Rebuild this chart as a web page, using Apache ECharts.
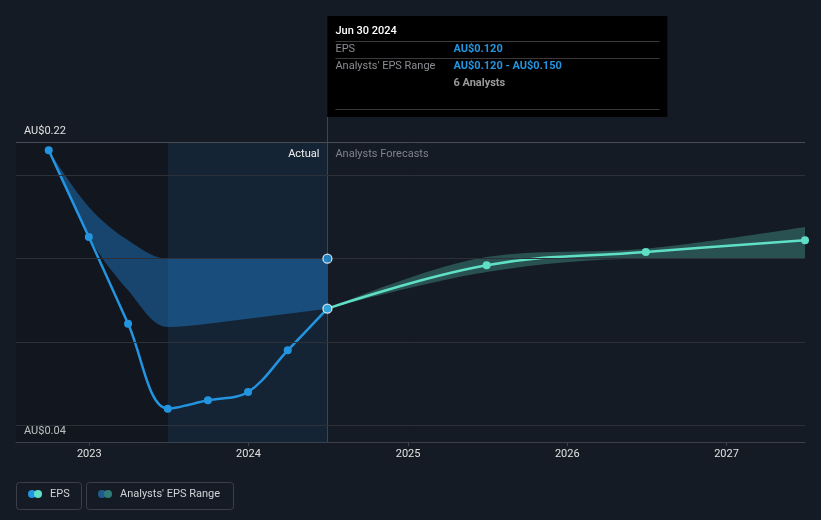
<!DOCTYPE html>
<html><head><meta charset="utf-8">
<script src="https://cdn.jsdelivr.net/npm/echarts@6/dist/echarts.min.js"></script>
<style>html,body{margin:0;padding:0;background:#151b25;}#c{width:821px;height:520px;}</style>
</head><body><div id="c"></div>
<script>
// ---- data ----
const pastDates = ['2022-09-30','2022-12-31','2023-03-31','2023-06-30','2023-09-30','2023-12-31','2024-03-31','2024-06-30'];
const epsActual = [0.215, 0.163, 0.111, 0.060, 0.065, 0.070, 0.095, 0.120];
const pastRangeLow = [0.215, 0.163, 0.131, 0.109, 0.111, 0.114, 0.117, 0.120];
const pastRangeHigh = [0.215, 0.181, 0.161, 0.150, 0.150, 0.150, 0.150, 0.150];
const forecastDates = ['2024-06-30','2025-06-30','2026-06-30','2027-06-30'];
const epsForecast = [0.120, 0.146, 0.154, 0.161];
const forecastLow = [0.120, 0.142, 0.150, 0.150];
const forecastHigh = [0.120, 0.151, 0.156, 0.169];
const gridValues = [0.05, 0.10, 0.15, 0.20, 0.22];
const yLabelValues = [0.04, 0.22];
const xMin = '2022-07-17', xMax = '2027-06-30';
const lastYearStart = '2023-06-30';
const tipDate = '2024-06-30';
const analystCount = 6;

const FONT = 'Roboto';
const BLUE = '#2394df', TEAL = '#5fe0c6';
const chart = echarts.init(document.getElementById('c'), null, {renderer: 'canvas'});
const zip = (d, v) => d.map((x, i) => [x, v[i]]);
const diff = (hi, lo) => hi.map((h, i) => +(h - lo[i]).toFixed(4));

chart.setOption({
  backgroundColor: '#151b25',
  animation: false,
  grid: {left: 16, right: 16, top: 142, bottom: 78},
  xAxis: {
    type: 'time', min: xMin, max: xMax,
    minInterval: 365 * 86400000, maxInterval: 366 * 86400000,
    axisLine: {lineStyle: {color: '#3b404a'}},
    axisTick: {show: true, length: 4, lineStyle: {color: '#3b404a'}},
    splitLine: {show: false},
    axisLabel: {color: '#e0e0e0', fontSize: 11, fontFamily: FONT, margin: 7, formatter: '{yyyy}'}
  },
  yAxis: {
    type: 'value', min: 0.04, max: 0.22, interval: 0.01,
    axisLine: {show: false}, axisTick: {show: false}, splitLine: {show: false},
    axisLabel: {
      inside: true, margin: 8, verticalAlign: 'bottom', padding: [0, 0, 5, 0],
      color: '#e0e0e0', fontSize: 11, fontFamily: FONT,
      showMinLabel: true, showMaxLabel: true,
      formatter: v => yLabelValues.some(t => Math.abs(t - v) < 1e-6) ? 'AU$' + v.toFixed(2) : ''
    }
  },
  series: [
    {
      name: 'pastLow', type: 'line', stack: 'past', data: zip(pastDates, pastRangeLow),
      smooth: 0.35, symbol: 'none', lineStyle: {width: 0, opacity: 0}, silent: true, z: 1,
      markArea: {
        silent: true,
        data: [
          [{xAxis: xMin, itemStyle: {color: 'rgba(0,0,0,0.16)'}}, {xAxis: lastYearStart}],
          [{xAxis: lastYearStart, itemStyle: {color: 'rgba(30,120,200,0.10)'}}, {xAxis: tipDate}]
        ]
      },
      markLine: {
        silent: true, symbol: 'none', label: {show: false},
        data: gridValues.map(v => ({yAxis: v, lineStyle: {color: v === 0.22 ? '#474c55' : '#2b3039', width: 1, type: 'solid'}}))
      }
    },
    {
      name: 'pastRange', type: 'line', stack: 'past', data: zip(pastDates, diff(pastRangeHigh, pastRangeLow)),
      smooth: 0.35, symbol: 'none', lineStyle: {width: 0, opacity: 0}, silent: true, z: 1,
      areaStyle: {color: 'rgba(33,140,230,0.40)', opacity: 1}
    },
    {
      name: 'fcLow', type: 'line', stack: 'fc', data: zip(forecastDates, forecastLow),
      smooth: 0.35, symbol: 'none', lineStyle: {width: 0, opacity: 0}, silent: true, z: 1
    },
    {
      name: 'fcRange', type: 'line', stack: 'fc', data: zip(forecastDates, diff(forecastHigh, forecastLow)),
      smooth: 0.35, symbol: 'none', lineStyle: {width: 0, opacity: 0}, silent: true, z: 1,
      areaStyle: {color: 'rgba(93,224,198,0.28)', opacity: 1}
    },
    {
      name: 'EPS', type: 'line', data: zip(pastDates, epsActual),
      smooth: 0.35, symbol: 'circle', symbolSize: 8, showAllSymbol: true,
      lineStyle: {color: BLUE, width: 2.5}, itemStyle: {color: BLUE}, z: 3
    },
    {
      name: 'EPS Forecast', type: 'line', data: zip(forecastDates, epsForecast),
      smooth: 0.4, symbol: 'circle', symbolSize: 8, showAllSymbol: true,
      lineStyle: {color: TEAL, width: 2.5}, itemStyle: {color: TEAL}, z: 3
    },
    {
      name: 'tip', type: 'scatter', z: 5,
      data: [[tipDate, epsActual[epsActual.length - 1]], [tipDate, pastRangeHigh[pastRangeHigh.length - 1]]],
      symbolSize: 9, itemStyle: {color: BLUE, borderColor: '#ffffff', borderWidth: 1.3}
    }
  ]
});

// annotations positioned from the axes
const px = chart.convertToPixel({xAxisIndex: 0}, tipDate);
const yTop = chart.convertToPixel({yAxisIndex: 0}, 0.22);
const yBot = chart.convertToPixel({yAxisIndex: 0}, 0.04);
const d = new Date(tipDate);
const months = ['Jan','Feb','Mar','Apr','May','Jun','Jul','Aug','Sep','Oct','Nov','Dec'];
const tipTitle = months[d.getUTCMonth()] + ' ' + d.getUTCDate() + ' ' + d.getUTCFullYear();
const fmt = v => 'AU$' + v.toFixed(3);
const boxX = px, boxY = 16, boxW = 340, boxH = 101;
const c1 = px + 8, c2 = px + 126;
const txt = (x, y, s, fill, extra) => Object.assign({type: 'text', z: 20, x: x, y: y,
  style: Object.assign({text: s, fill: fill, font: '11px ' + FONT, textVerticalAlign: 'middle', verticalAlign: 'middle'}, extra || {})});
const sep = y => ({type: 'line', z: 20, shape: {x1: c1, y1: y, x2: px + 332, y2: y}, style: {stroke: '#3a3a3a', lineWidth: 1}});

chart.setOption({
  graphic: [
    {type: 'line', z: 1, silent: true, shape: {x1: Math.round(px) + 0.5, y1: boxY + boxH, x2: Math.round(px) + 0.5, y2: yBot}, style: {stroke: '#2b4a66', lineWidth: 1}},
    {type: 'rect', z: 19, shape: {x: boxX, y: boxY, width: boxW, height: boxH}, style: {fill: '#000000'}},
    txt(c1, 31.5, tipTitle, '#ffffff', {font: '500 11px ' + FONT}),
    sep(41.5),
    txt(c1, 49.5, 'EPS', '#8a8d92'),
    txt(c2, 49.5, fmt(epsActual[epsActual.length - 1]), BLUE, {font: 'bold 11px ' + FONT}),
    sep(58.5),
    txt(c1, 66, "Analysts' EPS Range", '#8a8d92'),
    txt(c2, 66, fmt(pastRangeLow[pastRangeLow.length - 1]) + ' - ' + fmt(pastRangeHigh[pastRangeHigh.length - 1]), BLUE, {font: 'bold 11px ' + FONT}),
    txt(c2, 83, analystCount + ' Analysts', '#9a9a9a', {font: 'bold 11px ' + FONT}),
    sep(109.5),
    txt(px - 8, yTop + 12, 'Actual', '#f0f0f0', {textAlign: 'right', align: 'right'}),
    txt(px + 8, yTop + 12, 'Analysts Forecasts', '#7d828b'),
    // legend
    {type: 'rect', z: 20, shape: {x: 16.5, y: 482.5, width: 65, height: 27, r: 3}, style: {fill: 'none', stroke: '#3a3f4a', lineWidth: 1}},
    {type: 'circle', z: 20, shape: {cx: 32, cy: 494, r: 4}, style: {fill: BLUE}},
    {type: 'circle', z: 21, shape: {cx: 38, cy: 494, r: 4}, style: {fill: TEAL}},
    txt(50, 494.5, 'EPS', '#d0d2d6', {font: '11px ' + FONT}),
    {type: 'rect', z: 20, shape: {x: 86.5, y: 482.5, width: 147, height: 27, r: 3}, style: {fill: 'none', stroke: '#3a3f4a', lineWidth: 1}},
    {type: 'circle', z: 20, shape: {cx: 102, cy: 494, r: 4}, style: {fill: '#1f5b8c'}},
    {type: 'circle', z: 21, shape: {cx: 108, cy: 494, r: 4}, style: {fill: '#2f7d76'}},
    txt(120, 494.5, "Analysts' EPS Range", '#d0d2d6', {font: '11px ' + FONT})
  ]
});
</script></body></html>
